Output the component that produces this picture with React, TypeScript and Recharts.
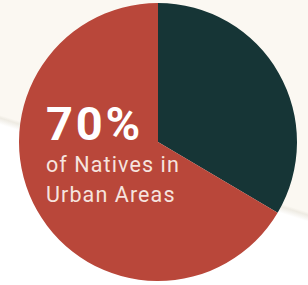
import { PieChart, Pie, Cell } from 'recharts';

const segments = ['Other', 'Urban Areas'];
const shares = [33.5, 66.5];
const segmentColors = ['#163536', '#b9473a'];

const headline = '70%';
const captionLines = ['of Natives in', 'Urban Areas'];

const chartData = segments.map((name, i) => ({ name, value: shares[i] }));

function Caption() {
  return (
    <svg
      width={308}
      height={285}
      style={{ position: 'absolute', left: 0, top: 0, pointerEvents: 'none' }}
    >
      <g fontFamily="Roboto, sans-serif">
        <text x={46} y={140} fill="#ffffff" fontSize={47} fontWeight={700} letterSpacing={2.8}>
          {headline}
        </text>
        {captionLines.map((line, i) => (
          <text key={line} x={46} y={172 + i * 30} fill="#f6e4df" fontSize={21.5} letterSpacing={1.1}>
            {line}
          </text>
        ))}
      </g>
    </svg>
  );
}

export default function App() {
  return (
    <div
      style={{
        position: 'absolute',
        left: 0,
        top: 0,
        width: 308,
        height: 285,
        background: 'linear-gradient(197.5deg, #fbf8f2 55.5%, #eeebe3 56.3%, #ffffff 58%)',
      }}
    >
      <PieChart width={308} height={285} margin={{ top: 0, right: 0, bottom: 0, left: 0 }}>
        <Pie
          data={chartData}
          dataKey="value"
          cx={158}
          cy={142}
          outerRadius={139}
          startAngle={90}
          endAngle={-270}
          stroke="none"
          isAnimationActive={false}
        >
          {chartData.map((entry, index) => (
            <Cell key={`cell-${entry.name}`} fill={segmentColors[index]} />
          ))}
        </Pie>
      </PieChart>
      <Caption />
    </div>
  );
}
